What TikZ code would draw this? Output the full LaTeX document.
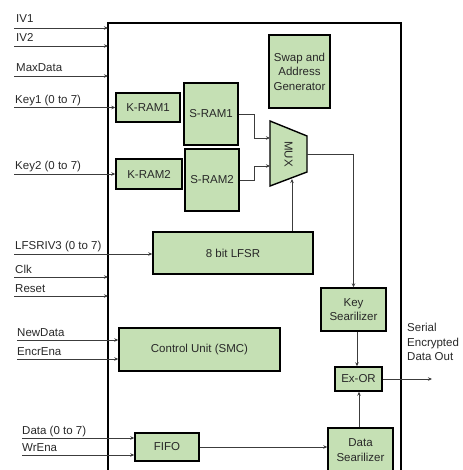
\documentclass[tikz,border=0pt]{standalone}
\usepackage{fontspec}
\setmainfont{Liberation Sans}
\usetikzlibrary{arrows.meta}
\definecolor{boxgreen}{RGB}{197,224,180}
\definecolor{linegray}{RGB}{60,60,60}
\definecolor{txtgray}{RGB}{40,40,40}
\begin{document}
\begin{tikzpicture}[x=1pt,y=-1pt,
  blk/.style={draw=black, line width=1.4pt, fill=boxgreen, inner sep=0pt, align=center,
    font=\fontsize{11.5}{14.5}\selectfont, text=txtgray},
  conn/.style={draw=linegray, line width=0.8pt, -{Stealth[length=4pt,width=3.5pt]}},
  wire/.style={draw=linegray, line width=0.8pt},
  lbl/.style={anchor=base west, inner sep=0pt, font=\fontsize{11.5}{14.5}\selectfont, text=txtgray}]
\useasboundingbox (0,0) rectangle (462,470);

% outer frame (open at bottom)
\draw[line width=1.4pt] (108,472) -- (108,23) -- (401,23) -- (401,472);

% blocks
\node[blk, minimum width=64pt, minimum height=29pt] (kram1) at (148,107.5) {K-RAM1};
\node[blk, minimum width=54pt, minimum height=62pt] (sram1) at (211,114) {S-RAM1};
\node[blk, minimum width=66pt, minimum height=30pt] (kram2) at (149,174) {K-RAM2};
\node[blk, minimum width=54pt, minimum height=62pt] (sram2) at (212,180) {S-RAM2};
\node[blk, minimum width=61pt, minimum height=73pt] (swap) at (299.5,71.5) {Swap and\\Address\\Generator};
\node[blk, minimum width=160pt, minimum height=42pt] (lfsr) at (233,253) {8 bit LFSR};
\node[blk, minimum width=65pt, minimum height=43pt] (keyser) at (353.5,309.5) {Key\\Searilizer};
\node[blk, minimum width=47pt, minimum height=24pt] (exor) at (358.5,379) {Ex-OR};
\node[blk, minimum width=65pt, minimum height=44pt] (dataser) at (360.5,450) {Data\\Searilizer};
\node[blk, minimum width=161pt, minimum height=43pt] (cu) at (199.5,349.5) {Control Unit (SMC)};
\node[blk, minimum width=64pt, minimum height=28pt] (fifo) at (167,447) {FIFO};

% MUX
\draw[line width=1.4pt, fill=boxgreen] (270,121) -- (307,136) -- (307,172) -- (270,186) -- cycle;
\node[rotate=-90, inner sep=0pt, font=\fontsize{11.5}{14.5}\selectfont, text=txtgray] (mux) at (288.5,154) {MUX};
\coordinate (muxin1) at (270,138);
\coordinate (muxin2) at (270,166);
\coordinate (muxout) at (307,154);
\coordinate (muxsel) at (292,179);

% internal connections
\draw[conn] (sram1.east) -- (254,114) |- (muxin1);
\draw[conn] (sram2.east) -- (254,180) |- (muxin2);
\draw[conn] (muxout) -| (keyser.north);
\draw[conn] (lfsr.north -| muxsel) -- (muxsel);
\draw[conn] (keyser.south -| 357,0) -- (exor.north -| 357,0);
\draw[conn] (dataser.north -| 359,0) -- (exor.south -| 359,0);
\draw[conn] (fifo.east) -- (dataser.west |- fifo.east);
\coordinate (out) at (432,379);
\draw[conn] (exor.east) -- (out);
\node[anchor=north west, inner sep=0pt, align=left, font=\fontsize{11.5}{14.5}\selectfont, text=txtgray] (outlbl) at (407,323) {Serial\\Encrypted\\Data Out};

% inputs to frame
\foreach \y/\t/\x/\dy in {28/IV1/16/5, 46/IV2/16/4, 76/MaxData/16/4, 277/Clk/15/4, 296/Reset/15/4}{
  \coordinate (s\t) at (14,\y);
  \draw[conn] (s\t) -- (108,\y);
  \node[lbl] at (\x,\y-\dy) {\t};
}
% inputs to blocks
\coordinate (sk1) at (14,107.5);
\draw[conn] (sk1) -- (kram1.west);
\node[lbl] (lk1) at (15,103.5) {Key1 (0 to 7)};
\coordinate (sk2) at (14,174);
\draw[conn] (sk2) -- (kram2.west);
\node[lbl] (lk2) at (15,170) {Key2 (0 to 7)};
\coordinate (slf) at (14,254);
\draw[conn] (slf) -- (lfsr.west |- slf);
\node[lbl] (llf) at (15,249) {LFSRIV3 (0 to 7)};
\coordinate (snd) at (17,340);
\draw[conn] (snd) -- (cu.west |- snd);
\node[lbl] (lnd) at (17,336) {NewData};
\coordinate (see) at (17,359);
\draw[conn] (see) -- (cu.west |- see);
\node[lbl] (lee) at (17,355) {EncrEna};
\coordinate (sda) at (22,438);
\draw[conn] (sda) -- (fifo.west |- sda);
\node[lbl] (lda) at (22,434) {Data (0 to 7)};
\coordinate (swr) at (22,455);
\draw[conn] (swr) -- (fifo.west |- swr);
\node[lbl] (lwr) at (22,451) {WrEna};
\end{tikzpicture}
\end{document}
